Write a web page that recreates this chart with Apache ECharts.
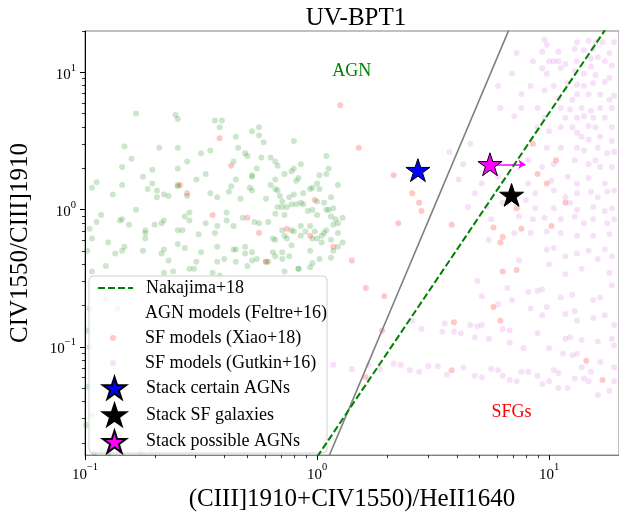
<!DOCTYPE html>
<html>
<head>
<meta charset="utf-8">
<title>UV-BPT1</title>
<script src="https://cdn.jsdelivr.net/npm/echarts@6/dist/echarts.min.js"></script>
<style>
  html, body { margin: 0; padding: 0; background: #fff; }
  #chart { width: 619px; height: 517px; }
</style>
</head>
<body>
<div id="chart"></div>
<script>
// log10 line ratios: [log10 x, log10 y]
// AGN photoionisation models (Feltre+16)
const agnLog = [
  [-0.78,0.70],[-0.61,0.69],[-0.60,0.66],[-0.44,0.65],[-0.41,0.65],[-0.42,0.60],[-0.25,0.60],[-0.28,0.57],[-0.25,0.54],[-0.35,0.53],
  [-0.23,0.49],[-0.10,0.50],[-0.83,0.46],[-0.68,0.45],[-0.60,0.45],[-0.46,0.43],[-0.50,0.41],[-0.34,0.45],[-0.31,0.41],[-0.30,0.39],
  [-0.80,0.37],[-0.56,0.35],[-0.24,0.38],[-0.20,0.38],[-0.18,0.35],[-0.17,0.32],[-0.36,0.35],[-0.07,0.33],[0.04,0.39],[-0.84,0.31],
  [-0.71,0.29],[-0.60,0.30],[-0.26,0.30],[-0.10,0.30],[-0.11,0.28],[0.05,0.30],[-0.75,0.24],[-0.48,0.26],[-0.52,0.22],[-0.35,0.22],
  [-0.28,0.25],[-0.28,0.24],[-0.18,0.22],[-0.14,0.26],[0.04,0.26],[0.01,0.25],[-0.08,0.23],[-0.09,0.21],[-0.95,0.20],[-0.97,0.16],
  [-0.84,0.18],[-0.73,0.15],[-0.71,0.19],[-0.69,0.14],[-0.66,0.11],[-0.64,0.10],[-0.60,0.17],[-0.60,0.18],[-0.56,0.10],[-0.46,0.12],
  [-0.43,0.09],[-0.37,0.17],[-0.38,0.13],[-0.33,0.08],[-0.29,0.16],[-0.28,0.14],[-0.22,0.08],[-0.20,0.18],[-0.18,0.15],[-0.17,0.14],
  [-0.16,0.10],[-0.15,0.06],[-0.12,0.09],[-0.10,0.11],[-0.06,0.12],[-0.07,0.05],[-0.03,0.15],[-0.02,0.16],[0.00,0.19],[0.01,0.15],
  [0.06,0.09],[0.09,0.18],[-0.88,0.11],[-0.69,0.09],[-0.78,0.00],[-0.93,-0.04],[-0.95,-0.09],[-0.98,-0.14],[-0.97,-0.21],[-0.85,-0.08],
  [-0.84,-0.07],[-0.81,-0.11],[-0.70,-0.11],[-0.67,-0.10],[-0.66,-0.08],[-0.74,-0.15],[-0.74,-0.17],[-0.74,-0.21],[-0.60,-0.15],[-0.58,-0.15],
  [-0.57,-0.05],[-0.55,-0.02],[-0.55,-0.08],[-0.48,-0.10],[-0.51,-0.18],[-0.44,-0.17],[-0.43,-0.12],[-0.39,-0.02],[-0.39,-0.08],[-0.32,-0.06],
  [-0.36,-0.12],[-0.27,-0.09],[-0.25,-0.10],[-0.21,-0.09],[-0.18,-0.03],[-0.17,0.02],[-0.15,0.02],[-0.14,-0.04],[-0.13,0.02],[-0.11,0.04],
  [-0.09,0.04],[-0.06,0.04],[-0.04,-0.01],[-0.02,0.00],[0.00,-0.04],[0.00,0.06],[0.03,0.05],[0.04,0.00],[0.05,0.00],[0.07,0.01],
  [0.06,-0.05],[0.08,-0.07],[0.11,-0.06],[0.07,-0.11],[0.09,-0.10],[0.04,-0.15],[0.03,-0.17],[0.02,-0.19],[-0.01,-0.16],[-0.03,-0.12],
  [-0.07,-0.12],[-0.07,-0.19],[-0.05,-0.16],[-0.10,-0.16],[-0.11,-0.15],[-0.15,-0.15],[-0.19,-0.21],[-0.18,-0.22],[-0.14,-0.19],[-0.13,-0.21],
  [-0.02,-0.21],[0.00,-0.21],[0.02,-0.24],[0.06,-0.22],[0.09,-0.17],[0.11,-0.24],[0.09,-0.27],[0.07,-0.30],[0.06,-0.35],[0.01,-0.36],
  [-0.02,-0.39],[-0.03,-0.30],[-0.08,-0.43],[-0.11,-0.26],[-0.12,-0.34],[-0.15,-0.31],[-0.15,-0.36],[-0.18,-0.34],[-0.19,-0.31],[-0.21,-0.38],
  [-0.22,-0.38],[-0.26,-0.36],[-0.28,-0.31],[-0.28,-0.37],[-0.31,-0.32],[-0.31,-0.27],[-0.35,-0.29],[-0.36,-0.29],[-0.43,-0.27],[-0.40,-0.36],
  [-0.43,-0.38],[-0.35,-0.38],[-0.30,-0.41],[-0.50,-0.31],[-0.52,-0.38],[-0.53,-0.43],[-0.57,-0.28],[-0.60,-0.25],[-0.66,-0.29],[-0.64,-0.37],
  [-0.67,-0.32],[-0.75,-0.30],[-0.83,-0.27],[-0.84,-0.30],[-0.90,-0.24],[-0.87,-0.32],[-0.91,-0.41],[-0.99,-0.30],[-0.97,-0.45],
  [-0.98,-0.72],[-0.99,-0.88],[-0.98,-1.00],[-0.99,-1.29],[-0.97,-1.50],[-0.995,-1.57],[-0.96,-1.77],[-0.93,-1.75],[-0.90,-1.77],[-0.76,-1.76],
  [-0.71,-1.74],[-0.91,-0.65],[-0.86,-0.72],[-0.66,-0.46],[-0.62,-0.45],[-0.55,-0.43],[-0.45,-0.46],[-0.42,-0.48],[-0.14,-0.45],[-0.08,-0.43],
  [-0.03,-0.42]
];

// SF models (Xiao+18)
const xiaoLog = [
  [0.10,0.76],[0.18,0.45],[-0.42,0.52],[-0.37,0.32],[-0.59,0.18],[-0.56,0.12],[-0.45,-0.04],[-0.30,-0.06],[-0.25,-0.17],[-0.13,-0.14],
  [-0.03,-0.19],[-0.01,0.07],[0.07,-0.27],[0.15,-0.37],[-0.22,-0.38],
  [0.33,0.25],[0.41,0.12],[0.44,0.05],[0.45,-0.01],
  [0.35,-0.10],[0.58,-0.11],[0.21,-0.57],[0.29,-0.63],[0.59,-0.82],[0.28,-0.88],[0.21,-1.22],[0.58,-1.17],
  [0.93,0.48],[1.03,0.36],[0.95,0.26],[0.99,0.19],[1.07,0.05],[0.86,0.01],[0.76,-0.13],[0.88,-0.14],[0.80,-0.20],[0.79,-0.24],[1.01,-0.12],
  [0.80,-0.45],[0.86,-0.44],[0.76,-0.71],[0.79,-0.81],[1.16,-1.10],[1.23,-1.24]
];

// SF models (Gutkin+16)
const gutkinLog = [
  [0.66,0.48],[0.57,0.42],[0.63,0.33],[0.61,0.22],[0.68,0.12],[0.65,0.02],
  [0.22,-1.13],[0.27,-1.16],[0.33,-1.12],[0.36,-1.13],[0.40,-1.17],[0.44,-1.18],[0.48,-1.14],[0.52,-1.14],[0.56,-1.20],[0.63,-1.15],
  [0.68,-1.21],[0.55,-0.83],[0.54,-0.89],[0.59,-0.89],[0.62,-0.90],[0.66,-0.84],[0.69,-0.85],[0.68,-0.93],[0.41,-0.81],[0.45,-0.87],
  [0.69,-0.52],[0.07,-1.13],[0.15,-1.16],
  [0.98,1.24],[0.99,1.20],[1.12,1.22],[1.17,1.23],[1.20,1.22],[1.23,1.22],[1.28,1.22],[0.97,1.15],[1.04,1.15],[1.11,1.17],
  [1.15,1.16],[1.19,1.17],[1.26,1.14],[0.86,1.14],[0.93,1.08],[1.00,1.08],[1.02,1.08],[1.04,1.08],[1.07,1.06],[1.12,1.08],
  [1.18,1.10],[1.21,1.11],[1.24,1.08],[1.27,1.05],[0.84,0.99],[0.97,1.03],[0.99,0.99],[1.05,1.03],[1.11,1.01],[1.18,1.04],
  [1.15,0.99],[1.20,0.98],[1.26,0.96],[0.78,0.90],[0.88,0.84],[0.92,0.90],[0.98,0.87],[1.02,0.90],[1.08,0.92],[1.12,0.91],
  [1.15,0.90],[1.19,0.92],[1.24,0.93],[1.28,0.83],[1.04,0.81],[1.10,0.80],[1.12,0.84],[1.17,0.84],[1.22,0.84],[1.26,0.80],
  [0.79,0.74],[0.88,0.74],[0.95,0.74],[1.05,0.74],[1.09,0.73],[1.14,0.74],[1.18,0.72],[1.22,0.74],[1.27,0.74],[0.85,0.68],
  [0.98,0.67],[1.07,0.67],[1.12,0.67],[1.15,0.68],[1.19,0.67],[1.24,0.67],[0.95,0.60],[1.00,0.57],[1.05,0.60],[1.10,0.60],
  [1.12,0.56],[1.17,0.61],[1.20,0.60],[1.27,0.60],[1.14,0.53],[1.17,0.51],[1.22,0.53],[1.27,0.50],[0.99,0.45],[1.05,0.45],
  [1.12,0.45],[1.15,0.43],[1.21,0.45],[1.25,0.41],[1.28,0.42],[0.91,0.36],[0.97,0.31],[1.02,0.33],[1.11,0.36],[1.17,0.33],
  [1.20,0.36],[1.22,0.31],[1.27,0.31],[0.71,0.19],[0.78,0.24],[0.91,0.19],[1.01,0.21],[1.08,0.24],[1.12,0.19],[1.17,0.23],
  [1.24,0.19],[1.28,0.14],[0.94,0.12],[1.02,0.14],[1.07,0.09],[1.12,0.12],[1.18,0.13],[1.21,0.09],[1.25,0.13],[0.73,0.02],
  [0.80,0.05],[0.90,0.07],[0.94,0.01],[1.02,0.01],[1.09,0.05],[1.12,0.00],[1.19,0.02],[1.24,-0.01],[1.27,0.01],[0.75,-0.07],
  [0.87,-0.05],[0.93,-0.07],[0.98,-0.06],[1.05,-0.07],[1.11,-0.05],[1.15,-0.10],[1.19,-0.07],[1.25,-0.10],[1.28,-0.07],[0.74,-0.22],
  [0.85,-0.17],[0.92,-0.17],[0.99,-0.16],[1.05,-0.17],[1.12,-0.19],[1.19,-0.19],[1.26,-0.18],
  [0.99,-0.29],[1.02,-0.28],[1.07,-0.34],[1.12,-0.32],[1.17,-0.30],[1.24,-0.29],[1.27,-0.34],[0.87,-0.37],[1.00,-0.40],[1.07,-0.47],
  [1.14,-0.43],[1.21,-0.36],[1.26,-0.46],[0.82,-0.57],[0.91,-0.60],[0.95,-0.59],[0.97,-0.58],[1.05,-0.64],[1.10,-0.62],[1.19,-0.66],
  [1.22,-0.64],[1.27,-0.55],[0.71,-0.63],[0.78,-0.69],[0.84,-0.66],[0.92,-0.72],[0.97,-0.77],[0.99,-0.71],[1.07,-0.76],[1.11,-0.74],
  [1.12,-0.81],[1.19,-0.79],[1.24,-0.77],[1.28,-0.84],[0.71,-0.84],[0.74,-0.94],[0.80,-0.87],[0.83,-0.88],[0.89,-1.01],[0.95,-0.90],
  [0.83,-0.97],[1.00,-1.01],[1.07,-0.94],[1.09,-0.93],[1.14,-0.95],[1.21,-0.96],[1.27,-0.94],[1.28,-0.99],[1.06,-1.05],[1.10,-1.06],
  [1.12,-1.05],[1.22,-1.11],[1.28,-1.15],[0.75,-1.16],[0.78,-1.17],[0.80,-1.21],[0.83,-1.24],[0.86,-1.25],[0.88,-1.18],[0.91,-1.18],
  [0.95,-1.21],[0.97,-1.27],[1.02,-1.17],[1.04,-1.19],[1.00,-1.25],[1.04,-1.30],[1.08,-1.30],[1.11,-1.23],[1.14,-1.15],[1.15,-1.23],
  [1.17,-1.25],[1.18,-1.18],[1.21,-1.35],[1.26,-1.32],[1.28,-1.25],[0.71,-1.22]
];

// demarcation lines, end points in ratio units
const nakajimaLine = [[1.0, 0.0158], [17.4, 20.3]];
const greyLine = [[1.12, 0.0157], [6.7, 20.3]];

// stacked spectra
const stackCertain = [[2.72, 1.94]];
const stackSF = [[6.89, 1.28]];
const stackPossible = [[5.56, 2.14]];
const possibleArrow = [[5.56, 2.14], [7.9, 2.14]];

// region labels
const agnLabelPos = [1.41, 10.2];
const sfgLabelPos = [6.89, 0.0335];

const majorTicks = [0.1, 1, 10];
const xMinorTicks = [0.2, 0.3, 0.4, 0.5, 0.6, 0.7, 0.8, 0.9, 2, 3, 4, 5, 6, 7, 8, 9];
const yMinorTicks = [0.02, 0.03, 0.04, 0.05, 0.06, 0.07, 0.08, 0.09,
  0.2, 0.3, 0.4, 0.5, 0.6, 0.7, 0.8, 0.9, 2, 3, 4, 5, 6, 7, 8, 9, 20];

const SERIF = "'Liberation Serif', 'DejaVu Serif', serif";
const STAR = 'path://M100,0L122.45,69.1L195.11,69.1L136.33,111.8L158.78,180.9L100,138.2L41.22,180.9L63.67,111.8L4.89,69.1L77.55,69.1Z';

const toRatio = (p) => [Math.pow(10, p[0]), Math.pow(10, p[1])];

function powLabel(v) {
  const e = Math.round(Math.log10(v));
  const s = e < 0 ? '\u2212' + (-e) : String(e);
  return '{b|10}{s|' + s + '}';
}
const tickRich = {
  b: { fontFamily: SERIF, fontSize: 15, color: '#000', lineHeight: 20, verticalAlign: 'bottom' },
  s: { fontFamily: SERIF, fontSize: 10.5, color: '#000', lineHeight: 12, verticalAlign: 'top' }
};

function majorAxis(dim, min, max) {
  const isX = dim === 'x';
  return {
    type: 'log', logBase: 10, min: min, max: max,
    position: isX ? 'bottom' : 'left',
    axisLine: { show: true, lineStyle: { color: isX ? '#808080' : '#000', width: 1 } },
    axisTick: { show: true, customValues: majorTicks, length: 5, lineStyle: { color: '#000', width: 1 } },
    axisLabel: { show: true, customValues: majorTicks, formatter: powLabel, rich: tickRich, margin: isX ? 7 : 9 },
    splitLine: { show: false },
    minorTick: { show: false }
  };
}
function minorAxis(dim, min, max) {
  const isX = dim === 'x';
  return {
    type: 'log', logBase: 10, min: min, max: max,
    position: isX ? 'bottom' : 'left',
    axisLine: { show: false },
    axisTick: { show: true, customValues: isX ? xMinorTicks : yMinorTicks, length: 3, lineStyle: { color: '#000', width: 0.8 } },
    axisLabel: { show: false },
    splitLine: { show: false }
  };
}

const chart = echarts.init(document.getElementById('chart'), null, { renderer: 'canvas' });

const xAx = majorAxis('x', 0.1, 20);
xAx.name = '(CIII]1910+CIV1550)/HeII1640';
xAx.nameLocation = 'middle';
xAx.nameGap = 19;
xAx.nameTextStyle = { fontFamily: SERIF, fontSize: 25, color: '#000' };

const yAx = majorAxis('y', 0.0163, 20);
yAx.name = 'CIV1550/CIII]1910';
yAx.nameLocation = 'middle';
yAx.nameGap = 52;
yAx.nameRotate = 90;
yAx.nameTextStyle = { fontFamily: SERIF, fontSize: 25, color: '#000' };

const legendText = { fontFamily: SERIF, fontSize: 18, color: '#000', lineHeight: 20 };

const option = {
  animation: false,
  backgroundColor: '#fff',
  title: {
    text: 'UV-BPT1', left: 351, top: 1, textAlign: 'center',
    textStyle: { fontFamily: SERIF, fontSize: 25, fontWeight: 'normal', color: '#000' }
  },
  grid: { left: 81, top: 31, width: 541, height: 430, show: true, borderColor: '#808080', borderWidth: 1, containLabel: false },
  xAxis: [xAx, minorAxis('x', 0.1, 20)],
  yAxis: [yAx, minorAxis('y', 0.0163, 20)],
  legend: [
    {
      data: [{ name: 'Nakajima+18', itemStyle: { opacity: 0 } }],
      orient: 'vertical', left: 97, top: 278, padding: 0,
      itemWidth: 35, itemHeight: 20, selectedMode: false,
      textStyle: Object.assign({ padding: [0, 0, 0, 8] }, legendText)
    },
    {
      data: [{ name: 'AGN models (Feltre+16)', icon: 'none' }, 'SF models (Xiao+18)', 'SF models (Gutkin+16)'],
      orient: 'vertical', left: 110, top: 303, padding: 0, itemGap: 5,
      itemWidth: 6, itemHeight: 20, selectedMode: false,
      textStyle: Object.assign({ padding: [0, 0, 0, 24] }, legendText)
    },
    {
      data: ['Stack certain AGNs', 'Stack SF galaxies', 'Stack possible AGNs'],
      orient: 'vertical', left: 102, top: 376, padding: 0, itemGap: 3,
      itemWidth: 23, itemHeight: 22, selectedMode: false,
      textStyle: Object.assign({ padding: [0, 0, 0, 15] }, legendText)
    }
  ],
  graphic: [{
    type: 'rect', z: 3, silent: true,
    shape: { x: 89, y: 276, width: 238, height: 177, r: 4 },
    style: { fill: 'rgba(255,255,255,0.8)', stroke: '#d0d0d0', lineWidth: 1 }
  }],
  series: [
    {
      name: 'AGN models (Feltre+16)', type: 'scatter', symbolSize: 6,
      itemStyle: { color: 'rgba(0,128,0,0.2)', opacity: 1 },
      data: agnLog.map(toRatio)
    },
    {
      name: 'SF models (Xiao+18)', type: 'scatter', symbolSize: 6,
      itemStyle: { color: 'rgba(255,0,0,0.22)', opacity: 1 },
      data: xiaoLog.map(toRatio)
    },
    {
      name: 'SF models (Gutkin+16)', type: 'scatter', symbolSize: 6,
      itemStyle: { color: 'rgba(200,70,220,0.16)', opacity: 1 },
      data: gutkinLog.map(toRatio)
    },
    {
      name: 'grey', type: 'line', symbol: 'none', clip: true,
      lineStyle: { color: '#808080', width: 1.6 },
      data: greyLine
    },
    {
      name: 'Nakajima+18', type: 'line', symbol: 'none', showSymbol: false, clip: true,
      itemStyle: { color: '#008000' },
      lineStyle: { color: '#008000', width: 2, type: [7, 3] },
      data: nakajimaLine
    },
    {
      name: 'possible-arrow', type: 'lines', coordinateSystem: 'cartesian2d',
      symbol: ['none', 'arrow'], symbolSize: 7,
      lineStyle: { color: '#ff00ff', width: 1.5, opacity: 1 },
      data: [{ coords: possibleArrow }]
    },
    {
      name: 'Stack certain AGNs', type: 'scatter', symbol: STAR, symbolSize: 24, symbolKeepAspect: true,
      itemStyle: { color: '#0000ff', borderColor: '#000', borderWidth: 1, opacity: 1 },
      data: stackCertain
    },
    {
      name: 'Stack SF galaxies', type: 'scatter', symbol: STAR, symbolSize: 24, symbolKeepAspect: true,
      itemStyle: { color: '#000', borderColor: '#000', borderWidth: 1, opacity: 1 },
      data: stackSF
    },
    {
      name: 'Stack possible AGNs', type: 'scatter', symbol: STAR, symbolSize: 24, symbolKeepAspect: true,
      itemStyle: { color: '#ff00ff', borderColor: '#000', borderWidth: 1, opacity: 1 },
      data: stackPossible
    },
    {
      name: 'labels', type: 'scatter', symbolSize: 0, silent: true,
      itemStyle: { opacity: 1 },
      label: { show: true, position: 'inside', fontFamily: SERIF, fontSize: 18,
        formatter: (p) => p.dataIndex === 0 ? 'AGN' : 'SFGs' },
      data: [
        { value: agnLabelPos, label: { color: '#008000' } },
        { value: sfgLabelPos, label: { color: '#ff0000' } }
      ]
    }
  ]
};

chart.setOption(option);
</script>
</body>
</html>
